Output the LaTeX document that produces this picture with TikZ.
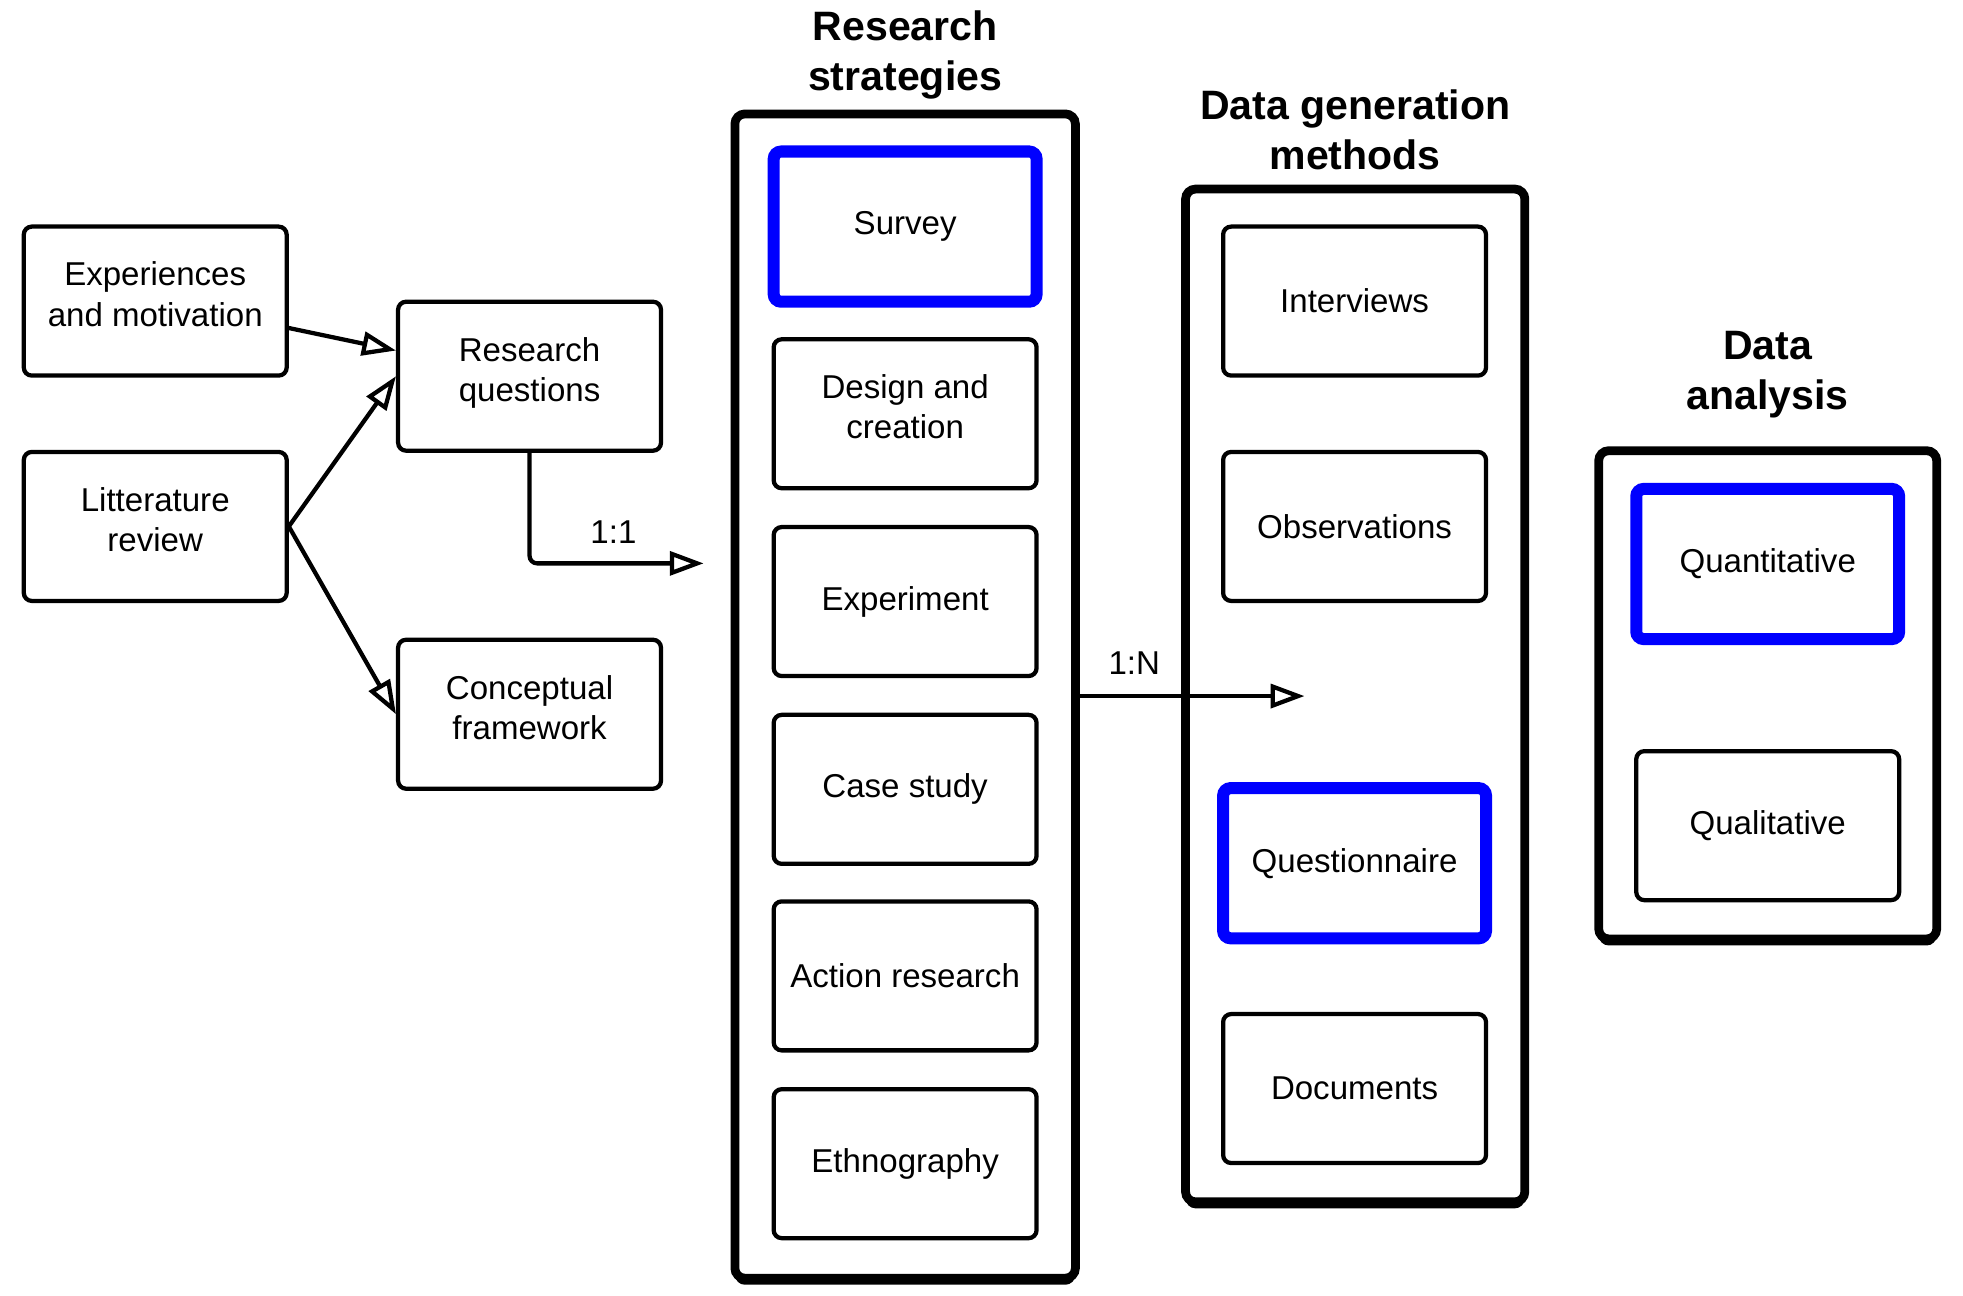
\documentclass[tikz,border=0pt]{standalone}
\usepackage{fontspec}
\setmainfont{Liberation Sans}
\usetikzlibrary{arrows.meta,shadows,calc}
\newcommand{\twoline}[2]{\raisebox{0pt}[\height][\dimexpr\depth+2.5pt\relax]{\begin{tabular}{@{}c@{}}#1\\#2\end{tabular}}}
\begin{document}
\begin{tikzpicture}[x=0.5pt,y=-0.5pt,
  box/.style={draw, line width=1.7pt, rounded corners=3.2pt, minimum width=105pt, minimum height=59.5pt, inner sep=0pt, align=center, font=\fontsize{13.2}{16}\selectfont},
  bluebox/.style={box, draw=blue, line width=4.8pt, rounded corners=3pt, minimum height=60pt},
  outer/.style={draw, fill=white, line width=3.5pt, rounded corners=4pt, inner sep=0pt, drop shadow={shadow xshift=0pt, shadow yshift=-2.6pt, fill=black, opacity=1}},
  title/.style={font=\bfseries\fontsize{16.4}{20}\selectfont, align=center},
  conn/.style={line width=1.7pt, -{Triangle[open,length=13.5pt,width=9.5pt]}},
  lbl/.style={font=\fontsize{13.2}{16}\selectfont}]
\useasboundingbox (0,0) rectangle (1568,1035);
% titles
\node[title] (trs) at (723,44) {Research\\strategies};
\node[title] (tdg) at (1082.5,104) {Data generation\\methods};
\node[title] (tda) at (1412,299) {Data\\analysis};
% outer boxes
\node[outer, minimum width=136pt, minimum height=465pt] (rs) at (723,556) {};
\node[outer, minimum width=135.5pt, minimum height=404.5pt] (dg) at (1082.5,555.5) {};
\node[outer, minimum width=135pt, minimum height=195pt] (da) at (1412,555) {};
% left boxes
\node[box] (em) at (124,240.5) {\twoline{Experiences}{and motivation}};
\node[box] (rq) at (423,300.5) {\twoline{Research}{questions}};
\node[box] (lr) at (124,420.5) {\twoline{Litterature}{review}};
\node[box] (cf) at (423,570.5) {\twoline{Conceptual}{framework}};
% research strategies
\node[bluebox] (s1) at (723,181) {Survey};
\node[box] (s2) at (723,330.5) {\twoline{Design and}{creation}};
\node[box] (s3) at (723,480.5) {Experiment};
\node[box] (s4) at (723,630.5) {Case study};
\node[box] (s5) at (723,779.5) {Action research};
\node[box] (s6) at (723,929.5) {Ethnography};
% data generation
\node[box] (d1) at (1082,240.5) {Interviews};
\node[box] (d2) at (1082,420.5) {Observations};
\node[bluebox] (d3) at (1082,689.5) {Questionnaire};
\node[box] (d4) at (1082,869.5) {Documents};
% data analysis
\node[bluebox] (a1) at (1412,450.5) {Quantitative};
\node[box] (a2) at (1412,659.5) {Qualitative};
% connectors
\coordinate (c1) at (562,450);
\coordinate (c2) at (1042,556);
\draw[conn] ([yshift=-10.75pt]em.east) -- ([yshift=10.25pt]rq.west);
\draw[conn] (lr.east) -- (rq.west);
\draw[conn] (lr.east) -- (cf.west);
\draw[conn, rounded corners=3pt] (rq.south) |- (c1);
\draw[conn] (rs.east) -- (c2);
\node[lbl] (l1) at (490,425) {1:1};
\node[lbl] (l2) at (906,530) {1:N};
\end{tikzpicture}
\end{document}
